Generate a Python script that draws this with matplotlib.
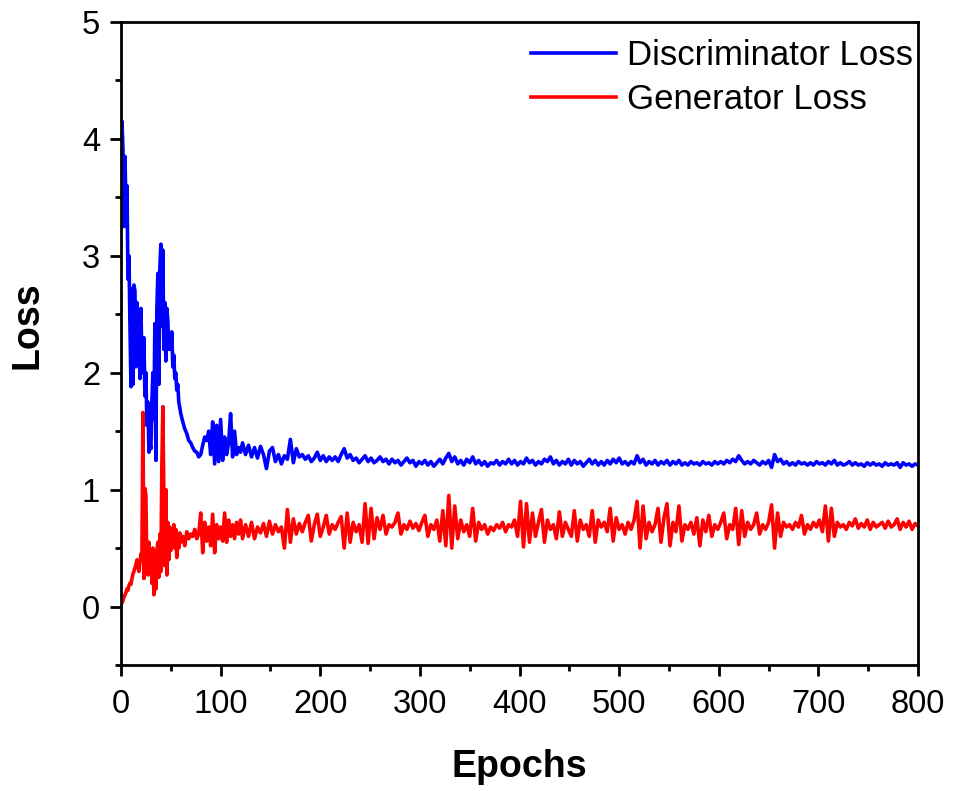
import numpy as np
import matplotlib
matplotlib.use("Agg")
import matplotlib.pyplot as plt
from matplotlib.ticker import MultipleLocator

plt.rcParams['font.family'] = ['Liberation Sans', 'DejaVu Sans']

# Epoch grid: dense at start, coarser later
epochs_early = np.arange(0, 61, 1)
epochs_mid = np.arange(62, 121, 2)
epochs_late = np.arange(122, 801, 3)
epochs = np.concatenate([epochs_early, epochs_mid, epochs_late])

disc_early = [
    3.30, 4.15, 3.90, 3.25, 3.85, 3.40, 3.60, 2.80, 3.00, 2.40,
    1.88, 2.72, 1.90, 2.75, 2.70, 2.05, 2.60, 2.20, 2.35, 1.95,
    2.55, 2.10, 2.00, 2.30, 1.80, 2.00, 1.55, 1.75, 1.32, 1.40,
    1.35, 1.75, 2.00, 1.60, 2.42, 1.25, 2.55, 2.85, 1.90, 2.90,
    3.10, 2.40, 3.05, 2.20, 2.60, 2.10, 2.55, 2.45, 2.20, 2.30,
    2.20, 2.35, 2.05, 2.15, 1.95, 2.00, 1.85, 1.90, 1.75, 1.70, 1.65,
]
disc_mid = [
    1.58, 1.52, 1.48, 1.42, 1.40, 1.36, 1.33, 1.32, 1.28, 1.30,
    1.38, 1.45, 1.42, 1.50, 1.30, 1.58, 1.22, 1.55, 1.24, 1.60,
    1.25, 1.45, 1.30, 1.40, 1.65, 1.28, 1.50, 1.30, 1.36, 1.32,
]
disc_late = [
    1.40, 1.30, 1.38, 1.28, 1.36, 1.27, 1.37, 1.30, 1.18, 1.33,
    1.36, 1.24, 1.30, 1.22, 1.29, 1.26, 1.43, 1.23, 1.35, 1.28,
    1.30, 1.26, 1.29, 1.24, 1.27, 1.32, 1.25, 1.29, 1.24, 1.28,
    1.25, 1.28, 1.24, 1.30, 1.35, 1.27, 1.30, 1.25, 1.27, 1.23,
    1.26, 1.29, 1.24, 1.27, 1.23, 1.25, 1.28, 1.24, 1.26, 1.22,
    1.26, 1.23, 1.25, 1.21, 1.24, 1.27, 1.23, 1.25, 1.20, 1.24,
    1.22, 1.25, 1.21, 1.24, 1.20, 1.23, 1.26, 1.22, 1.27, 1.31,
    1.24, 1.28, 1.22, 1.25, 1.21, 1.26, 1.23, 1.28, 1.22, 1.25,
    1.21, 1.24, 1.20, 1.23, 1.22, 1.25, 1.21, 1.24, 1.22, 1.26,
    1.22, 1.25, 1.21, 1.24, 1.22, 1.27, 1.23, 1.25, 1.21, 1.24,
    1.22, 1.26, 1.24, 1.28, 1.22, 1.25, 1.21, 1.24, 1.22, 1.26,
    1.21, 1.25, 1.22, 1.24, 1.20, 1.23, 1.26, 1.22, 1.25, 1.21,
    1.24, 1.21, 1.25, 1.22, 1.26, 1.23, 1.27, 1.22, 1.24, 1.21,
    1.24, 1.22, 1.29, 1.23, 1.26, 1.21, 1.24, 1.22, 1.25, 1.21,
    1.24, 1.22, 1.25, 1.21, 1.24, 1.22, 1.25, 1.21, 1.23, 1.21,
    1.24, 1.22, 1.23, 1.21, 1.24, 1.22, 1.23, 1.21, 1.24, 1.22,
    1.24, 1.22, 1.25, 1.23, 1.26, 1.24, 1.29, 1.25, 1.22, 1.24,
    1.22, 1.25, 1.23, 1.21, 1.24, 1.22, 1.25, 1.19, 1.30, 1.24,
    1.26, 1.22, 1.24, 1.21, 1.23, 1.21, 1.24, 1.22, 1.23, 1.21,
    1.23, 1.21, 1.24, 1.22, 1.23, 1.21, 1.24, 1.22, 1.25, 1.21,
    1.23, 1.21, 1.22, 1.24, 1.21, 1.23, 1.21, 1.22, 1.20, 1.23,
    1.21, 1.23, 1.21, 1.22, 1.20, 1.23, 1.21, 1.22, 1.21, 1.23,
    1.19, 1.23, 1.21, 1.22, 1.20, 1.22, 1.21,
]

gen_early = [
    0.02, 0.03, 0.05, 0.08, 0.10, 0.12, 0.15, 0.14, 0.18, 0.20,
    0.19, 0.24, 0.28, 0.30, 0.33, 0.36, 0.40, 0.35, 0.30, 0.38,
    0.45, 0.40, 1.66, 0.24, 1.01, 0.95, 0.30, 0.27, 0.55, 0.35,
    0.42, 0.20, 0.50, 0.10, 0.35, 0.15, 0.48, 0.55, 0.25, 0.62,
    0.30, 1.20, 1.71, 0.95, 0.35, 1.00, 0.27, 0.72, 0.40, 0.68,
    0.48, 0.65, 0.55, 0.70, 0.50, 0.66, 0.42, 0.62, 0.50, 0.63, 0.55,
]
gen_mid = [
    0.60, 0.52, 0.64, 0.58, 0.62, 0.60, 0.66, 0.58, 0.62, 0.80,
    0.46, 0.72, 0.56, 0.68, 0.52, 0.79, 0.46, 0.70, 0.58, 0.68,
    0.56, 0.80, 0.55, 0.74, 0.60, 0.70, 0.58, 0.72, 0.62, 0.74,
]
gen_late = [
    0.58, 0.70, 0.60, 0.72, 0.58, 0.68, 0.63, 0.71, 0.60, 0.73,
    0.62, 0.70, 0.64, 0.68, 0.50, 0.83, 0.55, 0.75, 0.62, 0.71,
    0.64, 0.72, 0.78, 0.56, 0.70, 0.79, 0.60, 0.68, 0.78, 0.62,
    0.70, 0.66, 0.72, 0.77, 0.50, 0.80, 0.55, 0.72, 0.64, 0.70,
    0.55, 0.88, 0.54, 0.84, 0.58, 0.76, 0.66, 0.78, 0.62, 0.70,
    0.68, 0.72, 0.80, 0.62, 0.70, 0.66, 0.73, 0.67, 0.71, 0.65,
    0.72, 0.78, 0.60, 0.70, 0.66, 0.74, 0.56, 0.82, 0.52, 0.95,
    0.50, 0.86, 0.58, 0.74, 0.64, 0.70, 0.60, 0.84, 0.56, 0.72,
    0.66, 0.70, 0.62, 0.68, 0.65, 0.70, 0.67, 0.72, 0.64, 0.70,
    0.68, 0.74, 0.60, 0.90, 0.51, 0.88, 0.55, 0.80, 0.60, 0.72,
    0.83, 0.55, 0.74, 0.66, 0.70, 0.58, 0.81, 0.60, 0.72, 0.66,
    0.60, 0.82, 0.56, 0.74, 0.66, 0.70, 0.60, 0.82, 0.55, 0.74,
    0.68, 0.72, 0.64, 0.84, 0.56, 0.76, 0.66, 0.70, 0.62, 0.72,
    0.66, 0.74, 0.90, 0.50, 0.86, 0.58, 0.72, 0.64, 0.70, 0.84,
    0.55, 0.76, 0.88, 0.52, 0.72, 0.64, 0.86, 0.56, 0.70, 0.66,
    0.72, 0.62, 0.76, 0.52, 0.74, 0.64, 0.78, 0.60, 0.70, 0.66,
    0.72, 0.80, 0.58, 0.70, 0.66, 0.84, 0.53, 0.82, 0.60, 0.72,
    0.66, 0.70, 0.80, 0.62, 0.70, 0.66, 0.72, 0.87, 0.50, 0.80,
    0.60, 0.72, 0.68, 0.70, 0.66, 0.72, 0.68, 0.78, 0.62, 0.70,
    0.66, 0.72, 0.68, 0.74, 0.64, 0.86, 0.56, 0.84, 0.60, 0.72,
    0.68, 0.70, 0.66, 0.72, 0.69, 0.75, 0.67, 0.71, 0.68, 0.74,
    0.66, 0.72, 0.68, 0.70, 0.72, 0.67, 0.73, 0.68, 0.70, 0.75,
    0.66, 0.72, 0.68, 0.73, 0.66, 0.71, 0.69,
]

disc_loss = np.array(disc_early + disc_mid + disc_late)
gen_loss = np.array(gen_early + gen_mid + gen_late)

series_labels = ["Discriminator Loss", "Generator Loss"]
x_label = "Epochs"
y_label = "Loss"

fig = plt.figure(figsize=(9.55, 7.91), dpi=100)
ax = fig.add_axes([0.1267, 0.1593, 0.8346, 0.8129])

ax.plot(epochs, disc_loss, color='#0000ff', lw=2.6, label=series_labels[0])
ax.plot(epochs, gen_loss, color='#ff0000', lw=2.6, label=series_labels[1])

ax.set_xlim(0, 800)
ax.set_ylim(-0.5, 5)
ax.xaxis.set_major_locator(MultipleLocator(100))
ax.xaxis.set_minor_locator(MultipleLocator(50))
ax.yaxis.set_major_locator(MultipleLocator(1))
ax.yaxis.set_minor_locator(MultipleLocator(0.5))

for s in ax.spines.values():
    s.set_linewidth(2.0)
ax.tick_params(which='both', direction='out', width=2.0, labelsize=23.5,
               top=False, right=False)
ax.tick_params(which='major', length=8)
ax.tick_params(which='minor', length=4.5)
ax.tick_params(axis='x', which='major', pad=9)
ax.tick_params(axis='y', which='major', pad=7)

ax.set_xlabel(x_label, fontsize=27, fontweight='bold')
ax.set_ylabel(y_label, fontsize=27, fontweight='bold')
ax.xaxis.set_label_coords(0.5, -0.13)
ax.yaxis.set_label_coords(-0.095, 0.529)

leg = ax.legend(loc='upper right', frameon=False, fontsize=25,
                handlelength=2.45, handletextpad=0.3, labelspacing=0.32,
                borderpad=0.1, borderaxespad=0.05, bbox_to_anchor=(1.0, 0.982))

fig.savefig('out.png', dpi=100)
